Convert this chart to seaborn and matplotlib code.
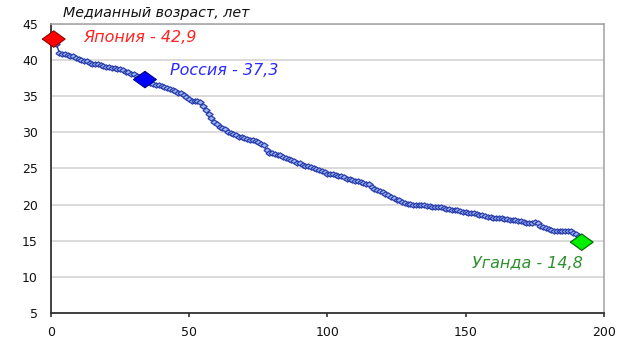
import matplotlib
matplotlib.use("Agg")
import matplotlib.pyplot as plt
import seaborn as sns
import pandas as pd

# Median age by country rank (rank 1..192)
median_age = [
    42.9, 42.2, 41.0, 40.9, 40.8, 40.7, 40.6, 40.5, 40.3, 40.2,
    40.0, 39.9, 39.8, 39.6, 39.5, 39.5, 39.4, 39.3, 39.2, 39.1,
    39.0, 38.9, 38.9, 38.8, 38.7, 38.6, 38.4, 38.3, 38.1, 38.0,
    37.8, 37.7, 37.5, 37.3, 36.9, 36.8, 36.7, 36.6, 36.5, 36.4,
    36.3, 36.1, 36.0, 35.9, 35.7, 35.5, 35.4, 35.2, 34.9, 34.6,
    34.4, 34.3, 34.3, 34.2, 33.6, 33.1, 32.6, 32.0, 31.4, 31.1,
    30.8, 30.6, 30.4, 30.1, 29.9, 29.7, 29.6, 29.4, 29.3, 29.2,
    29.1, 29.0, 29.0, 28.8, 28.6, 28.4, 28.2, 27.6, 27.2, 27.1,
    27.0, 26.9, 26.8, 26.6, 26.5, 26.3, 26.2, 26.0, 25.8, 25.7,
    25.5, 25.4, 25.3, 25.2, 25.0, 24.9, 24.8, 24.7, 24.5, 24.3,
    24.2, 24.2, 24.1, 24.0, 23.9, 23.8, 23.6, 23.5, 23.4, 23.3,
    23.2, 23.1, 23.0, 22.9, 22.8, 22.5, 22.2, 22.0, 21.9, 21.7,
    21.5, 21.3, 21.1, 20.9, 20.7, 20.6, 20.4, 20.2, 20.1, 20.1,
    20.0, 20.0, 19.95, 19.9, 19.9, 19.8, 19.8, 19.7, 19.7, 19.6,
    19.6, 19.5, 19.4, 19.4, 19.3, 19.2, 19.2, 19.1, 19.0, 19.0,
    18.9, 18.9, 18.8, 18.7, 18.6, 18.5, 18.4, 18.3, 18.3, 18.2,
    18.2, 18.1, 18.1, 18.0, 18.0, 17.9, 17.9, 17.8, 17.7, 17.7,
    17.6, 17.5, 17.5, 17.5, 17.6, 17.4, 17.1, 16.9, 16.7, 16.6,
    16.5, 16.4, 16.4, 16.35, 16.3, 16.3, 16.35, 16.3, 16.1, 16.0,
    15.7, 14.8,
]
ranks = list(range(1, len(median_age) + 1))

hl_names = ["Япония", "Россия", "Уганда"]
hl_ranks = [1, 34, 192]
hl_values = [42.9, 37.3, 14.8]
hl_labels = ["Япония - 42,9", "Россия - 37,3", "Уганда - 14,8"]
hl_colors = ["#ff0000", "#0000ff", "#00ee00"]
hl_edges = ["#990000", "#000088", "#006600"]
hl_text_colors = ["#ff2222", "#2a2aff", "#2f8f2f"]

title = "Медианный возраст, лет"
xticks = [0, 50, 100, 150, 200]
yticks = [5, 10, 15, 20, 25, 30, 35, 40, 45]

sns.set_style("white")
plt.rcParams["font.family"] = ["DejaVu Sans"]

fig = plt.figure(figsize=(6.37, 3.53), dpi=100)
ax = fig.add_axes([0.080, 0.1133, 0.868, 0.819])

diamond = [(-1, 0), (0, 0.72), (1, 0), (0, -0.72), (-1, 0)]

df = pd.DataFrame({"rank": ranks, "age": median_age})
sns.lineplot(data=df, x="rank", y="age", ax=ax, color="#2a3fa8", linewidth=1.0,
             marker=diamond, markersize=5.2, markerfacecolor="#9fb6ff",
             markeredgecolor="#2a3fa8", markeredgewidth=0.9, zorder=3)

hdf = pd.DataFrame({"name": hl_names, "rank": hl_ranks, "age": hl_values})
sns.scatterplot(data=hdf, x="rank", y="age", hue="name", palette=hl_colors,
                marker=diamond, s=270, ax=ax, legend=False, zorder=5,
                edgecolor=hl_edges, linewidth=0.8, clip_on=False)

# labels
ax.text(11.6, 43.1, hl_labels[0], color=hl_text_colors[0], fontsize=11.5,
        style="italic", ha="left", va="center")
ax.text(43, 38.5, hl_labels[1], color=hl_text_colors[1], fontsize=11.5,
        style="italic", ha="left", va="center")
ax.text(192.3, 11.9, hl_labels[2], color=hl_text_colors[2], fontsize=11.5,
        style="italic", ha="right", va="center")

fig.text(63 / 637, 1 - 13 / 353, title, fontsize=10.3, style="italic",
         ha="left", va="center", color="#111111")

ax.set_xlim(0, 200)
ax.set_ylim(5, 45)
ax.set_xticks(xticks)
ax.set_yticks(yticks)
ax.set_xlabel("")
ax.set_ylabel("")
ax.yaxis.grid(True, color="#d4d4d4", linewidth=1.2)
ax.set_axisbelow(True)

for s in ["left", "bottom"]:
    ax.spines[s].set_color("#333333")
    ax.spines[s].set_linewidth(1.3)
for s in ["top", "right"]:
    ax.spines[s].set_color("#a8a8a8")
    ax.spines[s].set_linewidth(1.2)

ax.tick_params(axis="x", bottom=True, length=3, width=1.2, color="#333333",
               pad=6, labelsize=9, labelcolor="#111111")
ax.tick_params(axis="y", left=False, pad=6, labelsize=9, labelcolor="#111111")

fig.savefig("out.png", dpi=100)
